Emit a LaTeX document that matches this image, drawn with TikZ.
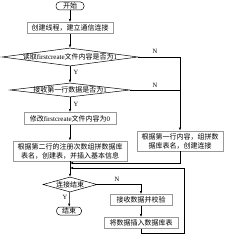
\documentclass[tikz,border=0pt]{standalone}
\usepackage{fontspec}
\setmainfont{Liberation Serif}
\newfontfamily\cjk{Noto Sans CJK SC}
\newfontfamily\latf{Liberation Serif}
\usetikzlibrary{shapes.geometric,arrows.meta}
\begin{document}
\begin{tikzpicture}[x=1pt,y=-1pt,
 every node/.style={font=\cjk\fontsize{7}{9}\selectfont, inner sep=0pt},
 box/.style={draw=gray!80, line width=0.9pt, align=center},
 term/.style={draw, rounded corners=3.5pt, line width=0.5pt, minimum width=28pt, minimum height=8pt},
 dia/.style={draw, shape=diamond, line width=0.5pt, inner sep=0pt},
 lbl/.style={font=\latf\fontsize{6.5}{7}\selectfont},
 arr/.style={-{Latex[length=3pt,width=2.4pt]}, line width=0.5pt},
 ln/.style={line width=0.5pt}]
\useasboundingbox (0,0) rectangle (226,237);
\node[term] (s) at (70,6) {开始};
\node[box, minimum width=86pt, minimum height=11pt] (b1) at (70,28) {创建线程，建立通信连接};
\node[dia, minimum width=136pt, minimum height=18pt] (d1) at (70,57) {};
\node (d1t) at (70,57) {读取{\latf firstcreate}文件内容是否为{\latf 1}};
\node[dia, minimum width=120pt, minimum height=14pt] (d2) at (70,90) {};
\node (d2t) at (70,90) {接收第一行数据是否为{\latf 1}};
\node[box, minimum width=92pt, minimum height=12pt] (b2) at (70,118.5) {修改{\latf firstcreate}文件内容为{\latf 0}};
\node[box, minimum width=114pt, minimum height=20pt] (b3) at (70,151) {根据第二行的注册次数组拼数据库\\表名，创建表，并插入基本信息};
\node[box, minimum width=86pt, minimum height=20pt] (rb) at (180,141) {根据第一行内容，组拼数\\据库表名，创建连接};
\node[dia, minimum width=54pt, minimum height=15pt] (d3) at (70,184.5) {};
\node (d3t) at (70,184.5) {连接结束};
\node[term, minimum width=25pt] (e) at (69,211) {结束};
\node[box, minimum width=62pt, minimum height=11pt] (b4) at (141,200) {接收数据并校验};
\node[box, minimum width=74pt, minimum height=11pt] (b5) at (141,223) {将数据插入数据库表};
\node[lbl] (n1) at (155,51) {N};
\node[lbl] (n2) at (155,85) {N};
\node[lbl] (n3) at (117,179) {N};
\node[lbl] (y1) at (76,72) {Y};
\node[lbl] (y2) at (76,104) {Y};
\node[lbl] (y3) at (65,197) {Y};
\coordinate (m1) at (70,163);
\coordinate (m2) at (70,168);
\coordinate (l1) at (141,233);
\coordinate (l2) at (184,233);
\coordinate (l3) at (184,168);
\draw[arr] (s) -- (b1);
\draw[arr] (b1) -- (d1);
\draw[arr] (d1) -- (d2);
\draw[arr] (d1.east) -| (rb.north);
\draw[ln] (d2.east) -- (d2.east -| rb.north);
\draw[arr] (d2) -- (b2);
\draw[arr] (b2) -- (b3);
\draw[arr] (b3) -- (d3);
\draw[arr] (rb.south) |- (m1);
\draw[arr] (d3.east) -| (b4.north);
\draw[arr] (d3) -- (e);
\draw[arr] (b4) -- (b5);
\draw[arr] (b5.south) -- (l1) -- (l2) -- (l3) -- (m2);
\end{tikzpicture}
\end{document}
